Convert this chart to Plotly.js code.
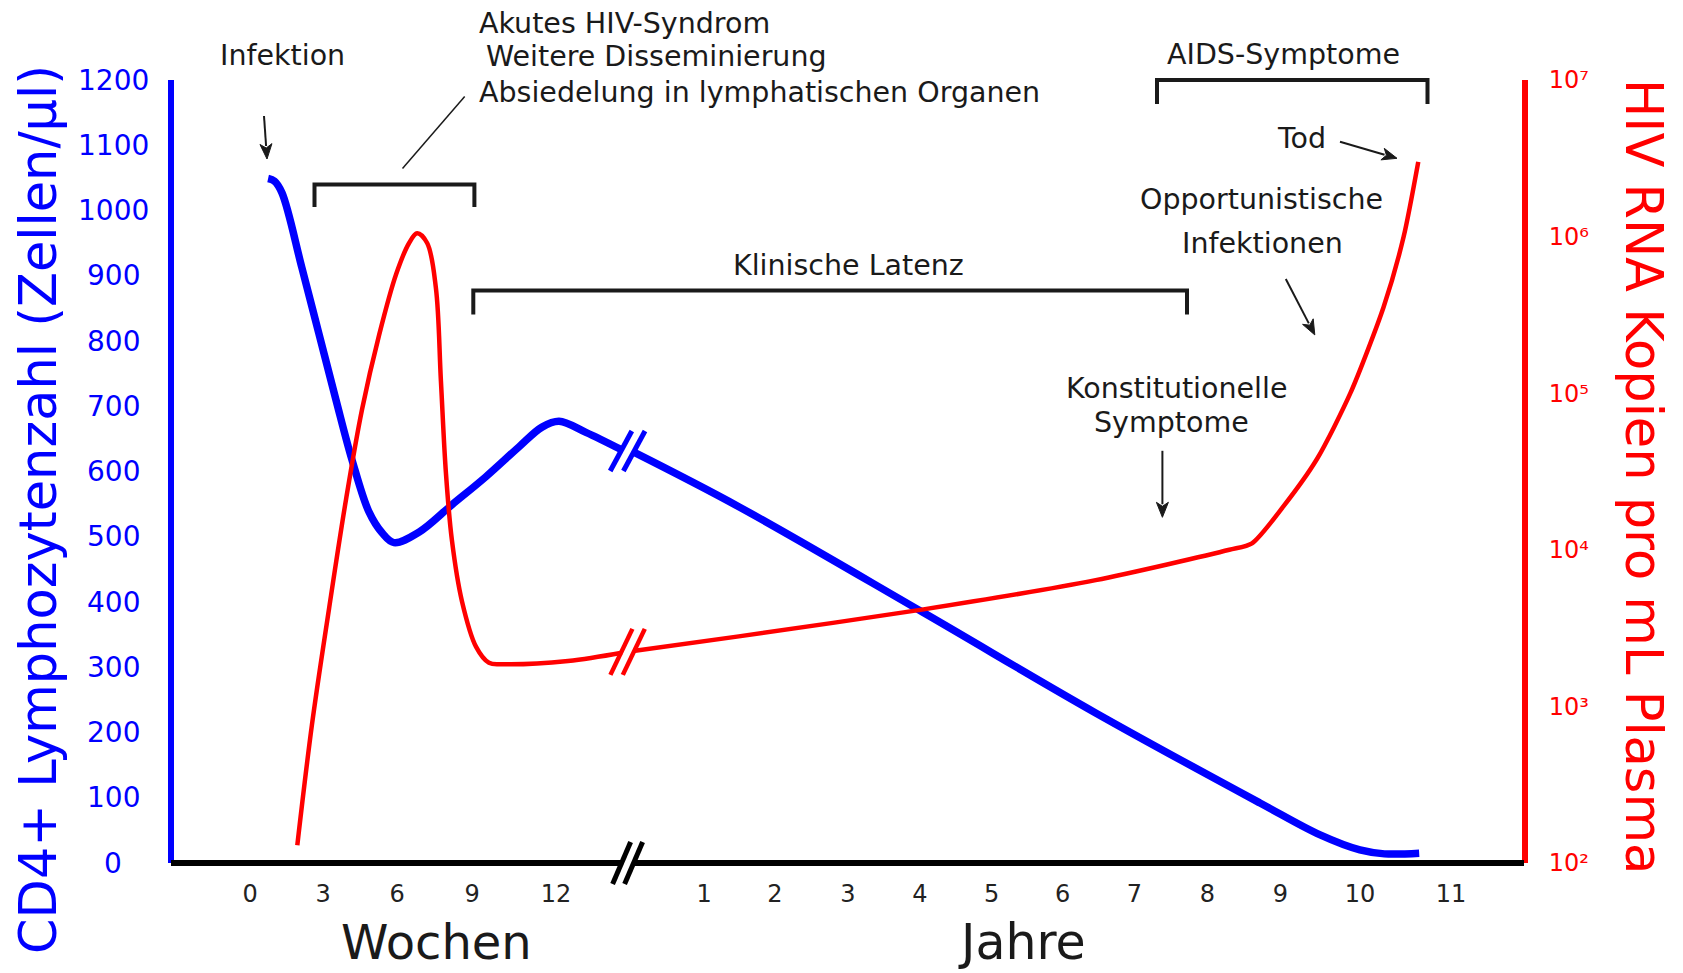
<!DOCTYPE html>
<html>
<head>
<meta charset="utf-8">
<script src="https://cdn.plot.ly/plotly-3.0.1.min.js"></script>
<style>html,body{margin:0;padding:0;background:#fff}#chart{width:1683px;height:973px}</style>
</head>
<body>
<div id="chart"></div>
<script>
// ---------------- DATA ----------------
// Tick labels
const weekTicks = [0, 3, 6, 9, 12];
const yearTicks = [1, 2, 3, 4, 5, 6, 7, 8, 9, 10, 11];
const cd4Ticks = [0, 100, 200, 300, 400, 500, 600, 700, 800, 900, 1000, 1100, 1200];
const rnaTicks = [1e2, 1e3, 1e4, 1e5, 1e6, 1e7];
const rnaTickText = ['10²', '10³', '10⁴', '10⁵', '10⁶', '10⁷'];

// CD4+ count (cells/µl) – acute phase, time in weeks
const cd4AcuteWeeks = [0.74, 1.0, 1.31, 2.13, 2.83, 3.52, 4.17, 4.86, 5.39, 5.87, 6.87, 8.19, 9.49, 10.68, 11.50, 12.11, 13.07, 14.36];
const cd4AcuteCells = [1049, 1045, 1027, 912, 811, 710, 618, 538, 506, 491, 507, 549, 592, 638, 668, 677, 660, 633];
// CD4+ count – chronic phase, time in years
const cd4ChronicYears = [0, 1.49, 4.03, 6.46, 8.72, 9.50, 10.0, 10.27, 10.65];
const cd4ChronicCells = [630, 546, 385, 230, 92, 43, 20, 14, 15];

// HIV RNA copies per mL plasma – acute phase, weeks
const rnaAcuteWeeks = [1.94, 2.54, 3.24, 3.93, 4.58, 5.27, 5.96, 6.48, 6.80, 7.20, 7.55, 7.75, 7.95, 8.19, 8.59, 9.14, 9.60, 10.07, 12.43, 14.36];
const rnaAcuteCopies = [130, 760, 4200, 21000, 79000, 235000, 575000, 910000, 1050000, 910000, 470000, 120000, 31000, 11500, 4700, 2400, 1900, 1860, 1950, 2200];
// HIV RNA – chronic phase, years
const rnaChronicYears = [0, 1.49, 4.03, 6.46, 8.30, 8.61, 9.04, 9.46, 9.88, 10.26, 10.48, 10.64];
const rnaChronicCopies = [2260, 2800, 4150, 6400, 10000, 11000, 19000, 38000, 100000, 355000, 1000000, 3000000];

// ---------------- LAYOUT GEOMETRY ----------------
const plotL = 174, plotR = 1522, plotT = 80, plotB = 863;
// positions of the tick marks along the (broken) time axis
const weekTickPos = [250.1, 323.1, 397.1, 472.2, 556.0];
const yearTickPos = [704.1, 774.9, 847.9, 919.8, 991.7, 1062.6, 1134.5, 1207.5, 1280.4, 1359.9, 1451.1];

function interp(t, ticks, pos) {
  const n = ticks.length;
  let i = 0;
  if (t <= ticks[0]) i = 0;
  else if (t >= ticks[n - 1]) i = n - 2;
  else { while (t > ticks[i + 1]) i++; }
  const f = (t - ticks[i]) / (ticks[i + 1] - ticks[i]);
  return pos[i] + f * (pos[i + 1] - pos[i]);
}
const weeksToX = w => interp(w, weekTicks, weekTickPos);
const yearsToX = y => interp(y, yearTicks, yearTickPos);
const px2pX = x => (x - plotL) / (plotR - plotL);
const px2pY = y => (plotB - y) / (plotB - plotT);

const FONT = 'DejaVu Sans, Verdana, sans-serif';
const BLUE = '#0000ff', RED = '#ff0000', INK = '#1a1a1a';
const TXT = 28.5;

// break position (between end of weeks and start of years)
const xWeekEnd = weeksToX(cd4AcuteWeeks[cd4AcuteWeeks.length - 1]);
const xYearStart = yearsToX(cd4ChronicYears[0]);
const breakX = (xWeekEnd + xYearStart) / 2;
const cd4Break = (cd4AcuteCells[cd4AcuteCells.length - 1] + cd4ChronicCells[0]) / 2;
const rnaBreak = (Math.log10(rnaAcuteCopies[rnaAcuteCopies.length - 1]) + Math.log10(rnaChronicCopies[0])) / 2;

// ---------------- TRACES ----------------
const traces = [
  {x: cd4AcuteWeeks.map(weeksToX), y: cd4AcuteCells, yaxis: 'y', mode: 'lines',
   line: {color: BLUE, width: 7.5, shape: 'spline'}, name: 'CD4+', hoverinfo: 'skip'},
  {x: cd4ChronicYears.map(yearsToX), y: cd4ChronicCells, yaxis: 'y', mode: 'lines',
   line: {color: BLUE, width: 7.5, shape: 'spline'}, name: 'CD4+', hoverinfo: 'skip'},
  {x: rnaAcuteWeeks.map(weeksToX), y: rnaAcuteCopies.map(Math.log10), yaxis: 'y2', mode: 'lines',
   line: {color: RED, width: 4.5, shape: 'spline'}, name: 'HIV RNA', hoverinfo: 'skip'},
  {x: rnaChronicYears.map(yearsToX), y: rnaChronicCopies.map(Math.log10), yaxis: 'y2', mode: 'lines',
   line: {color: RED, width: 4.5, shape: 'spline', smoothing: 0.7}, name: 'HIV RNA', hoverinfo: 'skip'}
];

// ---------------- SHAPES ----------------
function slashPair(xref, yref, xa, ya, sep, dx, dy, color, width) {
  return [-sep, sep].map(c => ({
    type: 'line', xref: xref, yref: yref, xsizemode: 'pixel', ysizemode: 'pixel',
    xanchor: xa, yanchor: ya, x0: c - dx, x1: c + dx, y0: -dy, y1: dy,
    line: {color: color, width: width}, layer: 'above'
  }));
}
function bracket(xl, xr, yt, yb) {
  return {type: 'path', xref: 'paper', yref: 'paper', layer: 'above',
    path: `M ${px2pX(xl)} ${px2pY(yb)} L ${px2pX(xl)} ${px2pY(yt)} L ${px2pX(xr)} ${px2pY(yt)} L ${px2pX(xr)} ${px2pY(yb)}`,
    line: {color: INK, width: 4}};
}
// arrow = line + filled triangular head (pixel geometry converted to paper)
function arrowShapes(tail, tip) {
  const dx = tip[0] - tail[0], dy = tip[1] - tail[1];
  const len = Math.hypot(dx, dy), ux = dx / len, uy = dy / len;
  const hl = 15, hw = 6;
  const bx = tip[0] - ux * hl, by = tip[1] - uy * hl;
  const p1 = [bx - uy * hw, by + ux * hw], p2 = [bx + uy * hw, by - ux * hw];
  return [
    {type: 'line', xref: 'paper', yref: 'paper', x0: px2pX(tail[0]), y0: px2pY(tail[1]),
     x1: px2pX(bx + ux * 2), y1: px2pY(by + uy * 2), line: {color: INK, width: 2}, layer: 'above'},
    {type: 'path', xref: 'paper', yref: 'paper', layer: 'above', fillcolor: INK,
     path: `M ${px2pX(tip[0])} ${px2pY(tip[1])} L ${px2pX(p1[0])} ${px2pY(p1[1])} L ${px2pX(bx + ux * 4)} ${px2pY(by + uy * 4)} L ${px2pX(p2[0])} ${px2pY(p2[1])} Z`,
     line: {color: INK, width: 1}}
  ];
}
const shapes = [
  // broken time axis
  {type: 'line', xref: 'paper', yref: 'paper', x0: px2pX(171), x1: px2pX(breakX - 6), y0: 0, y1: 0, line: {color: '#000', width: 6}, layer: 'above'},
  {type: 'line', xref: 'paper', yref: 'paper', x0: px2pX(breakX + 6), x1: px2pX(1524), y0: 0, y1: 0, line: {color: '#000', width: 6}, layer: 'above'},
  ...slashPair('x', 'paper', breakX, 0, 6, 9, 21, '#000', 5),
  ...slashPair('x', 'y', breakX, cd4Break, 6.6, 10.8, 20, BLUE, 5),
  ...slashPair('x', 'y2', breakX, rnaBreak, 6.2, 11, 23, RED, 4.5),
  bracket(314.5, 474.4, 184.6, 207),
  bracket(473.3, 1187, 290.5, 314.5),
  bracket(1157, 1427.5, 80, 104),
  {type: 'line', xref: 'paper', yref: 'paper', x0: px2pX(402.5), y0: px2pY(168.5), x1: px2pX(464.7), y1: px2pY(96.6),
   line: {color: INK, width: 1.5}, layer: 'above'},
  ...arrowShapes([264, 116], [267, 159]),
  ...arrowShapes([1340, 141.7], [1397, 158.3]),
  ...arrowShapes([1285.8, 279], [1314.8, 334.9]),
  ...arrowShapes([1162.4, 450.8], [1162.4, 517.3])
];

// ---------------- ANNOTATIONS ----------------
function txt(text, x, y, opts) {
  return Object.assign({text: text, xref: 'paper', yref: 'paper', x: px2pX(x), y: px2pY(y),
    showarrow: false, xanchor: 'center', yanchor: 'middle',
    font: {family: FONT, size: TXT, color: INK}}, opts || {});
}
const annotations = [
  ...cd4Ticks.map(v => ({text: String(v), xref: 'paper', yref: 'y', x: px2pX(113), y: v,
    showarrow: false, xanchor: 'center', yanchor: 'middle', font: {family: FONT, size: 28, color: BLUE}})),
  txt('CD4+ Lymphozytenzahl (Zellen/µl)', 38, 510, {textangle: -90, font: {family: FONT, size: 51, color: BLUE}}),
  txt('HIV RNA Kopien pro mL Plasma', 1644, 476, {textangle: 90, font: {family: FONT, size: 51, color: RED}}),
  txt('Wochen', 436, 972, {yanchor: 'bottom', font: {family: FONT, size: 48, color: INK}}),
  txt('Jahre', 1022, 942, {font: {family: FONT, size: 49, color: INK}}),
  txt('Infektion', 282, 56),
  txt('Akutes HIV-Syndrom', 476.5, 24, {xanchor: 'left'}),
  txt('Weitere Disseminierung', 484, 57, {xanchor: 'left'}),
  txt('Absiedelung in lymphatischen Organen', 476.5, 92, {xanchor: 'left'}),
  txt('Klinische Latenz', 848, 265),
  txt('AIDS-Symptome', 1283, 54),
  txt('Tod', 1301, 138.5),
  txt('Opportunistische', 1261, 200),
  txt('Infektionen', 1262, 244),
  txt('Konstitutionelle', 1176, 388.5),
  txt('Symptome', 1171, 422)
];

const layout = {
  width: 1683, height: 973,
  margin: {l: plotL, r: 1683 - plotR, t: plotT, b: 973 - plotB, pad: 0},
  paper_bgcolor: '#fff', plot_bgcolor: '#fff',
  showlegend: false,
  font: {family: FONT, color: INK},
  xaxis: {range: [plotL, plotR], showgrid: false, zeroline: false, showline: false,
    tickmode: 'array',
    tickvals: weekTicks.map(weeksToX).concat(yearTicks.map(yearsToX)),
    ticktext: weekTicks.map(String).concat(yearTicks.map(String)),
    ticks: 'outside', ticklen: 9, tickcolor: 'rgba(0,0,0,0)',
    tickfont: {family: FONT, size: 24, color: '#222'}},
  yaxis: {range: [0, 1200], showgrid: false, zeroline: false, showline: true,
    linecolor: BLUE, linewidth: 6, showticklabels: false, ticks: ''},
  yaxis2: {range: [2, 7], overlaying: 'y', side: 'right', showgrid: false, zeroline: false,
    showline: true, linecolor: RED, linewidth: 6, tickmode: 'array',
    tickvals: rnaTicks.map(Math.log10),
    ticktext: rnaTickText,
    ticks: 'outside', ticklen: 16, tickcolor: 'rgba(0,0,0,0)',
    tickfont: {family: FONT, size: 24, color: RED}},
  shapes: shapes,
  annotations: annotations
};

Plotly.newPlot('chart', traces, layout, {displayModeBar: false, staticPlot: true});
</script>
</body>
</html>
